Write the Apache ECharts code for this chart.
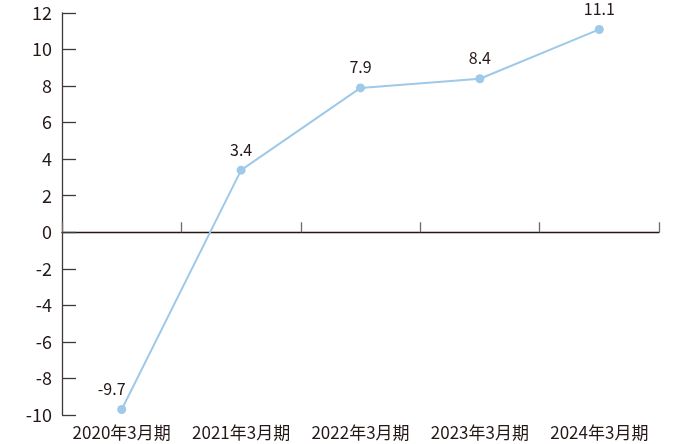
<!DOCTYPE html>
<html><head><meta charset="utf-8">
<script src="https://cdn.jsdelivr.net/npm/echarts@6/dist/echarts.min.js"></script>
<style>html,body{margin:0;padding:0;background:#fff}#c{width:690px;height:444px}</style>
</head><body><div id="c"></div>
<script>
const categories = ['2020年3月期','2021年3月期','2022年3月期','2023年3月期','2024年3月期'];
const values = [-9.7, 3.4, 7.9, 8.4, 11.1];
const yMin = -10, yMax = 12, yStep = 2;
const FONT = '"Noto Sans CJK JP", "Noto Sans", sans-serif';
const chart = echarts.init(document.getElementById('c'));
chart.setOption({
  animation: false,
  grid: {left: 62, right: 31, top: 13, bottom: 29},
  xAxis: [{
    type: 'category', data: categories, boundaryGap: true,
    axisLine: {onZero: true, lineStyle: {color: '#231815', width: 1.3}},
    axisTick: {show: true, inside: true, length: 10, lineStyle: {color: '#6e6a69', width: 1.3}},
    axisLabel: {show: false}
  }, {
    type: 'category', data: categories, position: 'bottom', boundaryGap: true,
    axisLine: {show: false, onZero: false}, axisTick: {show: false},
    axisLabel: {color: '#231815', fontSize: 17, fontFamily: FONT, margin: 9, interval: 0, hideOverlap: false}
  }],
  yAxis: {
    type: 'value', min: yMin, max: yMax, interval: yStep,
    axisLine: {show: true, lineStyle: {color: '#3e3a39', width: 1.3}},
    axisTick: {show: true, inside: true, length: 14, lineStyle: {color: '#3e3a39', width: 1.3}},
    splitLine: {show: false},
    axisLabel: {color: '#231815', fontSize: 18, fontFamily: FONT, margin: 10}
  },
  series: [{
    type: 'line', data: values.map((v, i) => i === 0 ? {value: v, label: {offset: [-10, 0]}} : v),
    xAxisIndex: 0,
    symbol: 'circle', symbolSize: 9,
    lineStyle: {color: '#9fc9e8', width: 2},
    itemStyle: {color: '#9fc9e8'},
    label: {show: true, position: 'top', distance: 8, color: '#231815', fontSize: 16, fontFamily: FONT}
  }]
});
</script></body></html>
